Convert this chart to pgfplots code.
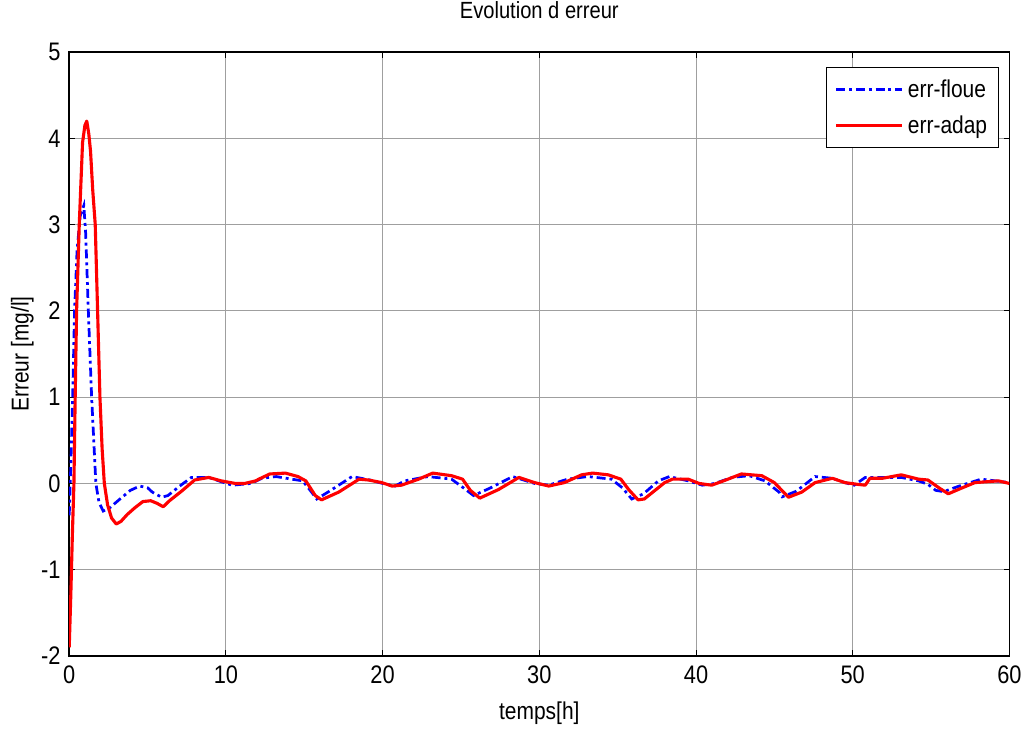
\documentclass[border=0pt]{standalone}
\usepackage{fontspec}
\setmainfont{Liberation Sans}[FakeStretch=0.86]
\usepackage{pgfplots}
\pgfplotsset{compat=1.18}

\pgfplotstableread{
t v
0 -0.37
0.1 0.2
0.22 1.0
0.34 2.0
0.5 2.7
0.7 3.1
0.93 3.22
1.05 2.9
1.22 2.0
1.43 1.0
1.7 0.0
1.9 -0.22
2.17 -0.32
2.6 -0.28
3.24 -0.18
3.9 -0.08
4.5 -0.03
5.0 -0.05
5.3 -0.1
5.9 -0.16
6.3 -0.14
6.64 -0.09
7.2 -0.01
7.8 0.07
8.9 0.07
9.7 0.02
10.4 -0.02
11.6 0.0
12.3 0.06
13.2 0.08
14.2 0.05
14.9 0.03
15.4 -0.085
15.8 -0.18
16.6 -0.09
18.05 0.08
19.2 0.04
20.0 0.0
20.8 -0.03
21.4 0.03
22.9 0.08
24.4 0.05
25.3 -0.07
25.8 -0.14
26.9 -0.05
28.3 0.08
29.7 0.0
30.6 -0.02
31.8 0.05
33.1 0.08
34.6 0.05
35.3 -0.05
35.9 -0.18
36.65 -0.12
37.6 0.03
38.3 0.08
39.5 0.03
40.4 -0.02
41.2 0.0
42.3 0.07
43.4 0.09
44.4 0.03
45.3 -0.1
45.5 -0.155
46.4 -0.09
47.6 0.08
48.7 0.06
49.5 0.01
50.1 -0.02
50.8 0.07
51.9 0.07
53.1 0.07
54.2 0.03
54.8 -0.01
55.3 -0.08
55.8 -0.095
56.8 -0.03
58.2 0.05
60 0.01
}\errfloue

\pgfplotstableread{
t v
0 -1.9
0.1 -1.3
0.2 -0.6
0.3 0.0
0.38 1.0
0.47 2.0
0.64 3.0
0.85 3.95
1.0 4.15
1.12 4.2
1.25 4.05
1.36 3.85
1.5 3.4
1.66 3.0
1.81 2.0
1.96 1.0
2.1 0.4
2.24 0.0
2.45 -0.25
2.7 -0.4
3.0 -0.47
3.3 -0.44
3.7 -0.36
4.2 -0.28
4.7 -0.21
5.2 -0.2
5.6 -0.23
6.0 -0.27
6.4 -0.2
7.2 -0.085
8.0 0.04
8.9 0.07
9.7 0.03
10.6 0.0
11.2 0.0
11.9 0.03
12.1 0.05
12.8 0.11
13.8 0.12
14.6 0.08
15.1 0.03
15.7 -0.14
16.1 -0.19
17.2 -0.1
18.5 0.05
19.1 0.04
19.95 0.01
20.6 -0.03
21.2 -0.02
22.3 0.05
23.2 0.12
24.4 0.09
25.1 0.05
25.6 -0.08
26.2 -0.17
27.4 -0.07
28.7 0.07
29.7 0.01
30.6 -0.03
31.6 0.01
32.7 0.1
33.4 0.12
34.4 0.1
35.2 0.05
35.7 -0.07
36.3 -0.19
36.7 -0.18
38.0 0.01
38.5 0.05
39.5 0.05
40.2 0.0
41.0 -0.02
41.9 0.04
42.9 0.11
44.2 0.09
45.0 0.01
45.9 -0.16
46.75 -0.1
47.6 0.01
48.7 0.06
49.5 0.01
50.3 -0.01
50.8 -0.02
51.1 0.06
51.9 0.06
53.1 0.1
54.2 0.05
54.8 0.04
55.5 -0.05
56.1 -0.12
57.0 -0.05
57.8 0.01
59.3 0.03
60 0.0
}\erradap

\begin{document}
\begin{tikzpicture}
\begin{axis}[
  scale only axis,
  width=482.1pt, height=309.7pt,
  at={(0,0)}, anchor=south west,
  xmin=0, xmax=60, ymin=-2, ymax=5,
  xtick={0,10,...,60},
  ytick={-2,-1,...,5},
  tick align=inside,
  tick pos=both,
  major tick length=3pt,
  tick style={black, line width=0.5pt},
  axis line style={black, line width=0.8pt},
  grid=major,
  major grid style={gray!75, line width=0.5pt},
  /pgf/number format/assume math mode=true,
  tick label style={font=\fontsize{13}{15}\selectfont},
  xticklabel style={yshift=-1.5pt},
  yticklabel style={xshift=-1pt},
  title={Evolution d erreur},
  title style={font=\fontsize{12}{14}\selectfont, at={(0.5,1)}, anchor=center, yshift=15.4pt},
  xlabel={temps[h]},
  xlabel style={font=\fontsize{12.5}{14}\selectfont, at={(0.5,0)}, anchor=center, yshift=-29.2pt},
  ylabel={Erreur [mg/l]},
  ylabel style={font=\fontsize{12.5}{14}\selectfont, at={(axis description cs:0,0.5)}, anchor=center, rotate=0, yshift=24pt},
  legend style={at={(1,1)}, anchor=north east, xshift=-5.1pt, yshift=-7.7pt,
    draw=black, line width=0.6pt, fill=white, font=\fontsize{12.5}{14}\selectfont,
    row sep=4pt, inner xsep=4pt, inner ysep=4pt},
  legend cell align=left,
  legend image code/.code={\draw[#1] (0pt,0pt) -- (34pt,0pt);},
]
\addplot[blue, line width=1.4pt, dash pattern=on 4.6pt off 2pt on 1.5pt off 2pt] table[x=t,y=v] {\errfloue};
\addlegendentry{err-floue}
\addplot[red, line width=1.6pt, line join=round] table[x=t,y=v] {\erradap};
\addlegendentry{err-adap}
\end{axis}
\pgfresetboundingbox
\path (-35.5pt,-37.4pt) rectangle (490.1pt,336.4pt);
\end{tikzpicture}
\end{document}
